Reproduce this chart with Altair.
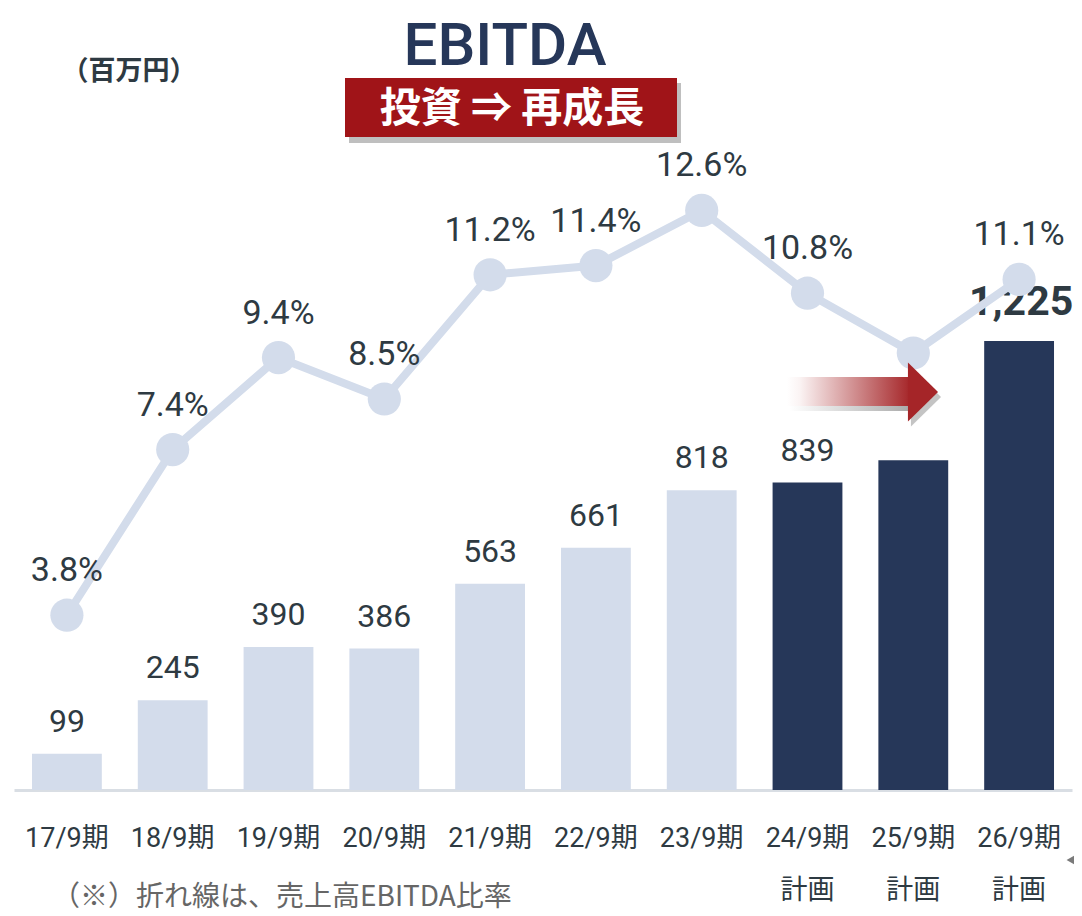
import altair as alt
import pandas as pd

# ---- data ----
periods = ["17/9期", "18/9期", "19/9期", "20/9期", "21/9期",
           "22/9期", "23/9期", "24/9期", "25/9期", "26/9期"]
is_plan = [False, False, False, False, False, False, False, True, True, True]
ebitda = [99, 245, 390, 386, 563, 661, 818, 839, 900, 1225]        # 百万円
ebitda_ratio = [3.8, 7.4, 9.4, 8.5, 11.2, 11.4, 12.6, 10.8, 9.5, 11.1]  # %
show_label = [True, True, True, True, True, True, True, True, False, True]
emphasis = [False, False, False, False, False, False, False, False, False, True]

title_text = "EBITDA"
badge_text = "投資 ⇒ 再成長"
unit_text = "（百万円）"
note_text = "（※）折れ線は、売上高EBITDA比率"

LIGHT = "#D3DCEB"
DARK = "#263759"
TEXT = "#2E3A42"
RED = "#A01418"

df = pd.DataFrame({
    "period": periods,
    "plan": ["計画" if p else "実績" for p in is_plan],
    "ebitda": ebitda,
    "ratio": ebitda_ratio,
    "show": show_label,
    "emph": emphasis,
})

W, H = 1058, 782
x_enc = alt.X("period:N", sort=periods, title=None,
              scale=alt.Scale(paddingInner=0.34, paddingOuter=0.17),
              axis=alt.Axis(labelAngle=0, ticks=False, tickSize=0, domain=True,
                            domainColor="#D9DEE4", domainWidth=3,
                            labelFont="Roboto, Noto Sans CJK JP", labelFontSize=27,
                            labelColor=TEXT, labelPadding=35, labelLineHeight=52,
                            labelExpr="indexof(['24/9期','25/9期','26/9期'], datum.value) >= 0 ? [datum.value, '計画'] : datum.value"))

ybar = alt.Y("ebitda:Q", scale=alt.Scale(domain=[0, 2134]), axis=None)
yline = alt.Y("ratio:Q", scale=alt.Scale(domain=[0, 17]), axis=None)

base = alt.Chart(df)

bars = base.mark_bar().encode(
    x=x_enc, y=ybar,
    color=alt.Color("plan:N", scale=alt.Scale(domain=["実績", "計画"], range=[LIGHT, DARK]), legend=None),
)
bar_labels = base.transform_filter("datum.show && !datum.emph").mark_text(
    font="Roboto", fontSize=32, color=TEXT, baseline="middle", dy=-32
).encode(x=alt.X("period:N", sort=periods), y=ybar, text=alt.Text("ebitda:Q", format=",.0f"))
bar_labels_bold = base.transform_filter("datum.emph").mark_text(
    font="Roboto", fontSize=41, fontWeight="bold", color=TEXT, baseline="middle", dy=-38, dx=2
).encode(x=alt.X("period:N", sort=periods), y=ybar, text=alt.Text("ebitda:Q", format=",.0f"))

bar_layer = alt.layer(bars, bar_labels, bar_labels_bold)

line = base.mark_line(color=LIGHT, strokeWidth=8).encode(x=alt.X("period:N", sort=periods), y=yline)
pts = base.mark_circle(color=LIGHT, opacity=1, size=1100).encode(x=alt.X("period:N", sort=periods), y=yline)
pct_labels = base.transform_filter("datum.show").transform_calculate(
    lbl="format(datum.ratio, '.1f') + '%'"
).mark_text(font="Roboto", fontSize=34, color=TEXT, baseline="middle", dy=-44).encode(
    x=alt.X("period:N", sort=periods), y=yline, text="lbl:N")

line_layer = alt.layer(line, pts, pct_labels)

one = pd.DataFrame({"k": [0]})
ann = alt.Chart(one)
title_mark = ann.mark_text(text=title_text, font="Roboto", fontSize=60, fontWeight=500,
                           color=DARK, align="center", baseline="alphabetic").encode(
    x=alt.value(491), y=alt.value(57))
shadow = ann.mark_rect(color="#000000", opacity=0.25).encode(
    x=alt.value(335), x2=alt.value(667), y=alt.value(75), y2=alt.value(135))
badge = ann.mark_rect(color=RED).encode(
    x=alt.value(331), x2=alt.value(663), y=alt.value(70), y2=alt.value(129))
badge_txt = ann.mark_text(text=badge_text, font="Noto Sans CJK JP", fontSize=41, fontWeight="bold",
                          color="white", align="center", baseline="middle").encode(
    x=alt.value(498), y=alt.value(102))
unit_mark = ann.mark_text(text=unit_text, font="Noto Sans CJK JP", fontSize=27, fontWeight="bold",
                          color=TEXT, align="center", baseline="middle").encode(
    x=alt.value(115), y=alt.value(64))
note_mark = ann.mark_text(text=note_text, font="Noto Sans CJK JP", fontSize=28,
                          color="#666666", align="left", baseline="middle").encode(
    x=alt.value(38), y=alt.value(890))
arrow_shadow = ann.mark_rect(color={"gradient": "linear", "x1": 0, "x2": 1, "y1": 0, "y2": 0,
                                    "stops": [{"offset": 0, "color": "#FFFFFF"},
                                              {"offset": 1, "color": "#A8A8A8"}]}).encode(
    x=alt.value(776), x2=alt.value(900), y=alt.value(374), y2=alt.value(403))
arrow_head_shadow = ann.mark_point(shape="M -0.51 -1 L 0.51 0 L -0.51 1 Z", filled=True, opacity=0.5,
                                   color="#8A8A8A", size=3481).encode(x=alt.value(912), y=alt.value(389))
arrow_body = ann.mark_rect(color={"gradient": "linear", "x1": 0, "x2": 1, "y1": 0, "y2": 0,
                                  "stops": [{"offset": 0, "color": "#FFFFFF"},
                                            {"offset": 0.1, "color": "#FBF4F4"},
                                            {"offset": 1, "color": "#A52528"}]}).encode(
    x=alt.value(773), x2=alt.value(897), y=alt.value(369), y2=alt.value(398))
arrow_head = ann.mark_point(shape="M -0.51 -1 L 0.51 0 L -0.51 1 Z", filled=True, opacity=1,
                            color="#A52528", size=3481).encode(x=alt.value(909), y=alt.value(384))
edge_tri = ann.mark_point(shape="triangle-left", filled=True, opacity=1, color="#7A7A7A",
                          size=700).encode(x=alt.value(1064), y=alt.value(852))

chart = alt.layer(
    bar_layer, line_layer,
    shadow, badge, badge_txt, title_mark, unit_mark, note_mark,
    arrow_shadow, arrow_head_shadow, arrow_body, arrow_head, edge_tri
).resolve_scale(y="independent").properties(
    width=W, height=H,
    background="white",
    autosize=alt.AutoSizeParams(type="none"),
    padding={"left": 6, "top": 0, "right": 2, "bottom": 126},
).configure_view(stroke=None)

chart.save("out.html", embed_options={"renderer": "svg", "actions": False})
